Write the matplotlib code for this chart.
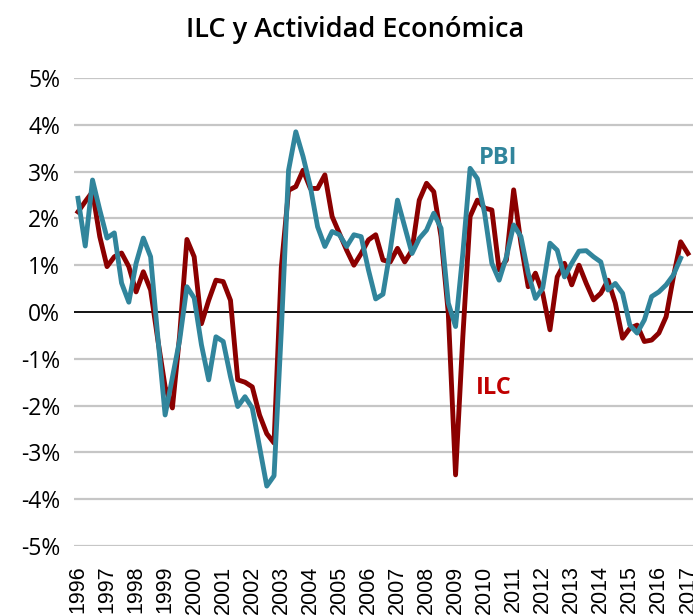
import matplotlib
matplotlib.use("Agg")
import matplotlib.pyplot as plt
import numpy as np

years = list(range(1996, 2018))
ilc = [2.14, 2.36, 2.57, 1.61, 0.97, 1.18, 1.26, 0.97, 0.43, 0.86, 0.47, -0.6,
       -1.6, -2.05, -0.5, 1.55, 1.18, -0.25, 0.25, 0.68, 0.65, 0.25, -1.45, -1.5,
       -1.6, -2.2, -2.6, -2.8, 0.95, 2.6, 2.68, 3.03, 2.64, 2.64, 2.93, 2.04,
       1.68, 1.32, 1.0, 1.25, 1.54, 1.65, 1.11, 1.07, 1.36, 1.07, 1.32, 2.39,
       2.75, 2.57, 1.61, -0.03, -3.48, -0.53, 2.04, 2.39, 2.22, 2.18, 0.9, 1.11,
       2.61, 1.47, 0.54, 0.83, 0.40, -0.38, 0.75, 1.04, 0.58, 1.0, 0.61, 0.26,
       0.40, 0.68, 0.19, -0.56, -0.35, -0.28, -0.63, -0.60, -0.45, -0.1, 0.75, 1.50,
       1.25]
pbi = [2.43, 1.41, 2.82, 2.18, 1.58, 1.69, 0.62, 0.21, 1.04, 1.58, 1.18, -0.55,
       -2.2, -1.4, -0.6, 0.54, 0.30, -0.7, -1.45, -0.53, -0.63, -1.38, -2.02, -1.81,
       -2.05, -2.88, -3.72, -3.5, -0.4, 3.03, 3.85, 3.32, 2.68, 1.82, 1.40, 1.72,
       1.65, 1.40, 1.65, 1.61, 0.9, 0.28, 0.38, 1.32, 2.39, 1.82, 1.25, 1.57,
       1.75, 2.11, 1.79, 0.19, -0.31, 1.25, 3.07, 2.85, 2.11, 1.04, 0.68, 1.18,
       1.86, 1.61, 0.83, 0.29, 0.51, 1.47, 1.32, 0.75, 1.04, 1.3, 1.31, 1.18,
       1.07, 0.47, 0.61, 0.40, -0.28, -0.45, -0.17, 0.33, 0.43, 0.58, 0.79, 1.15]
yticks = list(range(-5, 6))

RED = "#8B0000"
TEAL = "#31859C"

fig = plt.figure(figsize=(6.93, 6.16), dpi=100)
ax = fig.add_axes([74/693, 70/616, 1 - 74/693, (546-78)/616])

for t in yticks:
    if t != 0:
        ax.axhline(t, color="#C6C6C6", lw=1.6, zorder=1)
ax.axhline(0, color="black", lw=1.3, zorder=2)

ax.plot(np.arange(len(ilc)), ilc, color=RED, lw=3.5, zorder=3, solid_joinstyle="round")
ax.plot(np.arange(len(pbi)), pbi, color=TEAL, lw=3.5, zorder=4, solid_joinstyle="round")

ax.set_xlim(-0.55, 84.7)
ax.set_ylim(-5, 5)
ax.set_yticks(yticks)
ax.set_yticklabels([f"{t}%" for t in yticks], fontsize=16.5, family="Open Sans")
ax.set_xticks(np.arange(0, 4 * len(years), 4))
ax.set_xticklabels([str(y) for y in years], rotation=90, fontsize=15.5,
                   family="Liberation Sans")
ax.tick_params(axis="both", length=0)
ax.tick_params(axis="y", pad=10)
ax.tick_params(axis="x", pad=14)
for s in ax.spines.values():
    s.set_visible(False)

ax.text(57.85, 3.29, "PBI", color=TEAL, fontsize=17, fontweight="bold",
        family="Open Sans", ha="center", va="center")
ax.text(57.3, -1.62, "ILC", color="#C00000", fontsize=17, fontweight="bold",
        family="Open Sans", ha="center", va="center")

fig.text(355/693, 1 - 30/616, "ILC y Actividad Económica", fontsize=19.5,
         fontweight="semibold", family="Open Sans", ha="center", va="center")

fig.savefig("out.png", dpi=100)
